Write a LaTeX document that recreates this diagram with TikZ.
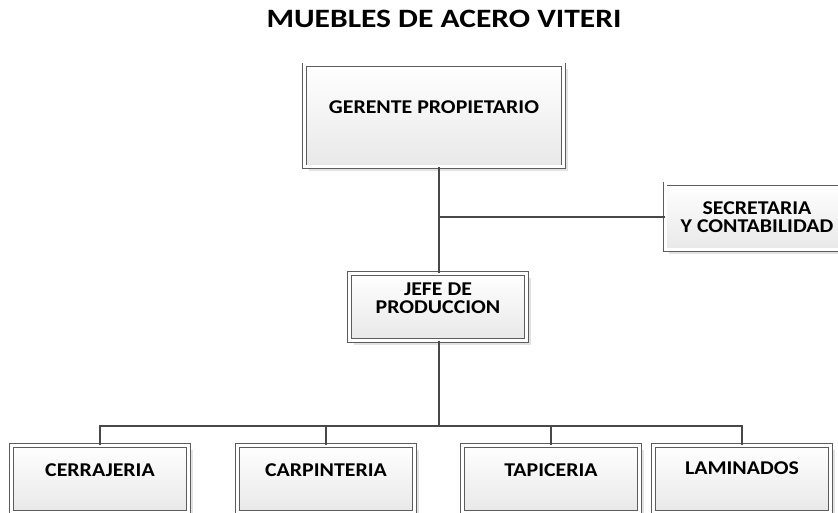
\documentclass[tikz,border=0pt]{standalone}
\usepackage{fontspec}
\setmainfont{Carlito}
\newfontfamily\titlefont{Carlito}[FakeStretch=1.19]
\newfontfamily\boxfont{Carlito}[FakeStretch=1.12]
\usetikzlibrary{shadows}
\definecolor{wire}{HTML}{484848}
\definecolor{frame}{HTML}{5C5C5C}
\tikzset{
  unit/.style={draw=frame, line width=0.7pt, double=white, double distance=3pt,
    top color=white, bottom color=black!9,
    drop shadow={shadow xshift=4pt, shadow yshift=-4pt, opacity=0.22},
    minimum width=177pt, minimum height=67pt, inner sep=0pt},
  lab/.style={font=\boxfont\bfseries\fontsize{19.5}{18.5}\selectfont, align=center, text=black},
  headline/.style={font=\titlefont\bfseries\fontsize{26.5}{30}\selectfont, text=black},
  link/.style={draw=wire, line width=2pt},
}

\begin{document}
\begin{tikzpicture}[x=1pt, y=-1pt]
  \useasboundingbox (0,0) rectangle (838,513);
  \clip (0,0) rectangle (838,513);

  \node[headline] (title) at (444,18.5) {MUEBLES DE ACERO VITERI};

  % boxes
  \node[unit, minimum width=259pt, minimum height=102pt] (gerente) at (434,116) {};
  \node[unit, minimum width=184pt, minimum height=66pt] (secretaria) at (757,217) {};
  \node[unit] (jefe) at (438,307) {};
  \node[unit] (cerrajeria) at (100,479) {};
  \node[unit] (carpinteria) at (326,479) {};
  \node[unit] (tapiceria) at (551,479) {};
  \node[unit] (laminados) at (742,479) {};

  % texts
  \node[lab] (gerente-t) at ([yshift=9pt]gerente.center) {GERENTE PROPIETARIO};
  \node[lab] (secretaria-t) at (secretaria.center) {SECRETARIA\\Y CONTABILIDAD};
  \node[lab] (jefe-t) at ([yshift=9pt]jefe.center) {JEFE DE\\PRODUCCION};
  \node[lab] (cerrajeria-t) at ([yshift=8.5pt]cerrajeria.center) {CERRAJERIA};
  \node[lab] (carpinteria-t) at ([yshift=8.5pt]carpinteria.center) {CARPINTERIA};
  \node[lab] (tapiceria-t) at ([yshift=8.5pt]tapiceria.center) {TAPICERIA};
  \node[lab] (laminados-t) at ([yshift=10.5pt]laminados.center) {LAMINADOS};

  % connectors
  \coordinate (bus) at (439,426);
  \draw[link] (jefe.north -| bus) -- (gerente.south -| bus);
  \draw[link] (bus |- secretaria.west) -- (secretaria.west);
  \draw[link] (jefe.south -| bus) -- (bus);
  \draw[link] (cerrajeria.north) |- (bus) -| (laminados.north);
  \draw[link] (carpinteria.north) -- (carpinteria.north |- bus);
  \draw[link] (tapiceria.north) -- (tapiceria.north |- bus);
\end{tikzpicture}
\end{document}
